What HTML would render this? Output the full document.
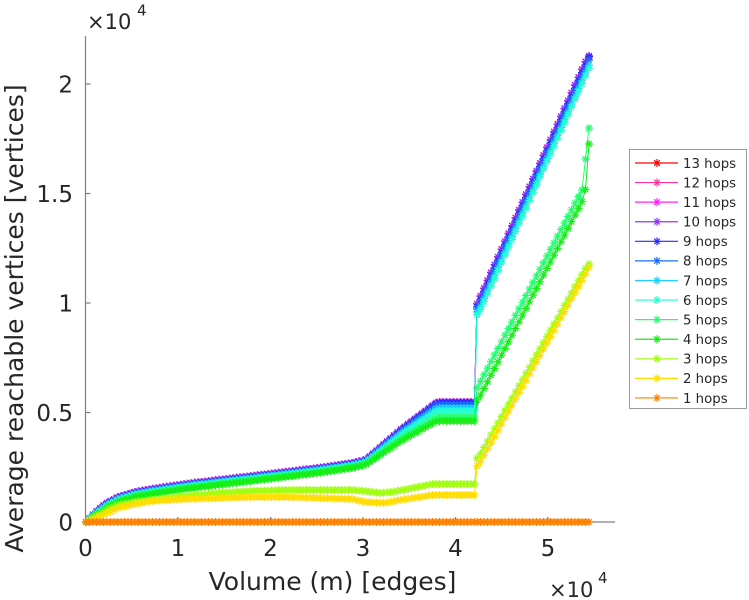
<!DOCTYPE html>
<html>
<head>
<meta charset="utf-8">
<style>
  html,body{margin:0;padding:0;background:#fff;}
  svg{display:block;}
  text{font-family:"DejaVu Sans","Liberation Sans",sans-serif;fill:#262626;}
</style>
</head>
<body>
<svg id="chart" xmlns="http://www.w3.org/2000/svg" width="749" height="600" viewBox="0 0 749 600">
  <rect x="0" y="0" width="749" height="600" fill="#ffffff"/>
  <defs id="defs"></defs>

  <!-- axes -->
  <g stroke="#808080" stroke-width="1.2" fill="none">
    <line x1="85.5" y1="36" x2="85.5" y2="522"/>
    <line x1="85.5" y1="522" x2="615" y2="522"/>
    <line x1="85.5" y1="412.5" x2="90.5" y2="412.5"/>
    <line x1="85.5" y1="303" x2="90.5" y2="303"/>
    <line x1="85.5" y1="193.5" x2="90.5" y2="193.5"/>
    <line x1="85.5" y1="84" x2="90.5" y2="84"/>
    <line x1="178" y1="522" x2="178" y2="517"/>
    <line x1="270.5" y1="522" x2="270.5" y2="517"/>
    <line x1="363" y1="522" x2="363" y2="517"/>
    <line x1="455.5" y1="522" x2="455.5" y2="517"/>
    <line x1="548" y1="522" x2="548" y2="517"/>
  </g>

  <!-- y tick labels -->
  <g font-size="23" text-anchor="end">
    <text x="73" y="530.5">0</text>
    <text x="73" y="421">0.5</text>
    <text x="73" y="311.5">1</text>
    <text x="73" y="202">1.5</text>
    <text x="73" y="92.5">2</text>
  </g>
  <!-- x tick labels -->
  <g font-size="23" text-anchor="middle">
    <text x="85.5" y="556">0</text>
    <text x="178" y="556">1</text>
    <text x="270.5" y="556">2</text>
    <text x="363" y="556">3</text>
    <text x="455.5" y="556">4</text>
    <text x="548" y="556">5</text>
  </g>

  <!-- exponent labels -->
  <text x="87" y="29" font-size="21">×10</text>
  <text x="137" y="15.5" font-size="15">4</text>
  <text x="549" y="597" font-size="21">×10</text>
  <text x="598" y="583" font-size="15">4</text>

  <!-- axis labels -->
  <text x="332.5" y="590" font-size="25" text-anchor="middle">Volume (m) [edges]</text>
  <text transform="translate(23,318.5) rotate(-90)" font-size="25" text-anchor="middle">Average reachable vertices [vertices]</text>

  <!-- data -->
  <g id="data"></g>

  <!-- legend -->
  <rect x="629.5" y="149.5" width="117" height="259" fill="#ffffff" stroke="#9a9a9a" stroke-width="1"/>
  <g id="legendlines"></g>
  <g font-size="13.3">
    <text x="683" y="167.8">13 hops</text>
    <text x="683" y="187.4">12 hops</text>
    <text x="683" y="207.0">11 hops</text>
    <text x="683" y="226.5">10 hops</text>
    <text x="683" y="246.1">9 hops</text>
    <text x="683" y="265.7">8 hops</text>
    <text x="683" y="285.3">7 hops</text>
    <text x="683" y="304.9">6 hops</text>
    <text x="683" y="324.4">5 hops</text>
    <text x="683" y="344.0">4 hops</text>
    <text x="683" y="363.6">3 hops</text>
    <text x="683" y="383.2">2 hops</text>
    <text x="683" y="402.8">1 hops</text>
  </g>
</svg>

<script>
(function(){
  var NS='http://www.w3.org/2000/svg';
  var defs=document.getElementById('defs');
  var data=document.getElementById('data');
  var leg=document.getElementById('legendlines');
  var colors={13:'#ff0000',12:'#ff3399',11:'#ff22ff',10:'#9933ff',9:'#2a2aff',8:'#1a6dff',
              7:'#1ccfff',6:'#22ffd0',5:'#22ff6e',4:'#16ee16',3:'#a0ff10',2:'#ffdd00',1:'#ff8000'};
  var STAR='M1,5H9M5,1V9M2.2,2.2L7.8,7.8M7.8,2.2L2.2,7.8';
  for(var n=1;n<=13;n++){
    var m=document.createElementNS(NS,'marker');
    m.setAttribute('id','m'+n);
    m.setAttribute('markerUnits','userSpaceOnUse');
    m.setAttribute('markerWidth','10');m.setAttribute('markerHeight','10');
    m.setAttribute('refX','5');m.setAttribute('refY','5');
    m.setAttribute('overflow','visible');
    var p=document.createElementNS(NS,'path');
    p.setAttribute('d',STAR);p.setAttribute('stroke',colors[n]);
    p.setAttribute('stroke-width','1.2');p.setAttribute('fill','none');
    m.appendChild(p);defs.appendChild(m);
  }
  var pre=[],post=[];
  for(var k=0;k<=111;k++)pre.push(86+3.5*k);
  for(var k2=0;k2<=32;k2++)post.push(477+3.5*k2);
  function interp(kp,x){
    if(x<=kp[0][0])return kp[0][1];
    for(var i=1;i<kp.length;i++){
      if(x<=kp[i][0]){var a=kp[i-1],b=kp[i];return a[1]+(b[1]-a[1])*(x-a[0])/(b[0]-a[0]);}
    }
    return kp[kp.length-1][1];
  }
  var A9=[[86,522],[90,518],[95,513],[105,505],[118,498],[135,493],[152,490],[185,485],[218,481],
          [252,477],[285,473],[318,469],[352,464],[365,461],[370,457],[400,431],[437,403],[475,403]];
  function offA(a,b){return function(x){
    var o=x<=365?a:(x>=437?b:a+(b-a)*(x-365)/72);
    if(x<=86)return 0;
    if(x<100)o=o*(x-86)/14;
    return o;};}
  function fromA(a,b){var f=offA(a,b);return function(x){return interp(A9,x)+f(x);};}
  var S3=[[86,522],[95,517],[105,511],[118,505],[135,502],[152,500],[185,496],[218,493],[252,491],
          [285,490],[318,490],[352,490],[365,491],[380,493],[392,492],[433,484],[475,484]];
  var S2=[[86,522],[95,519],[105,514],[118,508],[135,504],[152,501],[185,499],[218,498],[252,497],
          [285,497],[318,498],[352,499],[365,502],[385,503],[400,500],[433,495],[475,495]];
  var series=[
    {n:13,pre:fromA(-1,-1),post:[[476,306],[588,56]]},
    {n:12,pre:fromA(-1,-1),post:[[476,306],[588,56]]},
    {n:11,pre:fromA(-1,-1),post:[[476,306],[588,56]]},
    {n:10,pre:fromA(-1,-1),post:[[476,306],[588,56]]},
    {n:9,pre:fromA(0,0),post:[[477,307],[589,57]]},
    {n:8,pre:fromA(0.5,2),post:[[477,309],[589,60]]},
    {n:7,pre:fromA(1,5),post:[[478,312],[590,63]]},
    {n:6,pre:fromA(2,8),post:[[478,315],[590,66]]},
    {n:5,pre:fromA(3,14),post:[[477,388],[582,190],[589,128]]},
    {n:4,pre:fromA(4,18),post:[[478,400],[585,196],[589,144]]},
    {n:3,pre:function(x){return interp(S3,x);},post:[[478,458],[588,264]]},
    {n:2,pre:function(x){return interp(S2,x);},post:[[478,466],[590,266]]},
    {n:1,pre:function(x){return 522;},post:[[477,522],[589,522]]}
  ];
  series.forEach(function(s){
    var pts=[];
    pre.forEach(function(x){pts.push(x.toFixed(1)+','+s.pre(x).toFixed(1));});
    post.forEach(function(x){pts.push(x.toFixed(1)+','+interp(s.post,x).toFixed(1));});
    var pl=document.createElementNS(NS,'polyline');
    pl.setAttribute('points',pts.join(' '));
    pl.setAttribute('fill','none');
    pl.setAttribute('stroke',colors[s.n]);
    pl.setAttribute('stroke-width','1');
    pl.setAttribute('stroke-linejoin','round');
    var u='url(#m'+s.n+')';
    pl.setAttribute('marker-start',u);pl.setAttribute('marker-mid',u);pl.setAttribute('marker-end',u);
    data.appendChild(pl);
  });
  for(var i=0;i<13;i++){
    var n2=13-i, y=163+19.58*i;
    var ln=document.createElementNS(NS,'line');
    ln.setAttribute('x1','635');ln.setAttribute('x2','678');
    ln.setAttribute('y1',y);ln.setAttribute('y2',y);
    ln.setAttribute('stroke',colors[n2]);ln.setAttribute('stroke-width','1.2');
    leg.appendChild(ln);
    var pp=document.createElementNS(NS,'path');
    pp.setAttribute('d',STAR);
    pp.setAttribute('transform','translate('+(657-5)+','+(y-5)+')');
    pp.setAttribute('stroke',colors[n2]);pp.setAttribute('stroke-width','1.2');pp.setAttribute('fill','none');
    leg.appendChild(pp);
  }
})();
</script>
</body>
</html>
